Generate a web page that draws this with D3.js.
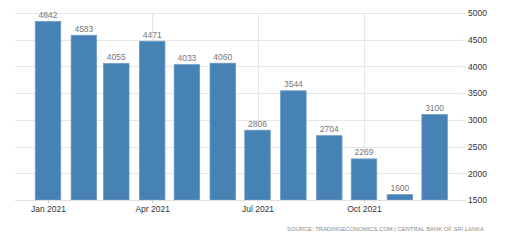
<!DOCTYPE html>
<html>
<head>
<meta charset="utf-8">
<script src="https://cdn.jsdelivr.net/npm/d3@7"></script>
<style>
  body { margin: 0; background: #fff; }
  svg { display: block; font-family: "Liberation Sans", Arial, sans-serif; }
  .grid line { stroke: #e6e6e6; }
</style>
</head>
<body>
<svg id="chart" width="515" height="240"></svg>
<script>
// monthly values, 2021
var months = ['2021-01', '2021-02', '2021-03', '2021-04', '2021-05', '2021-06',
  '2021-07', '2021-08', '2021-09', '2021-10', '2021-11', '2021-12']
var values = [4842, 4583, 4055, 4471, 4033, 4060, 2806, 3544, 2704, 2269, 1600, 3100]
var yTicks = [1500, 2000, 2500, 3000, 3500, 4000, 4500, 5000]
var xTicks = ['2021-01', '2021-04', '2021-07', '2021-10']

var parse = d3.timeParse('%Y-%m')
var data = months.map((m, i) => ({ date: parse(m), value: values[i] }))

var svg = d3.select('#chart')
var plotLeft = 15, plotRight = 459, plotTop = 13, plotBottom = 200

var x = d3.scaleTime()
  .domain([parse('2021-01'), parse('2021-10')])
  .range([48, 364])
var y = d3.scaleLinear().domain([1500, 5000]).range([plotBottom, plotTop])
var barW = 25.5

// horizontal grid
svg.append('g').attr('class', 'grid')
  .selectAll('line')
  .data(yTicks)
  .enter()
  .append('line')
  .attr('x1', plotLeft)
  .attr('x2', plotRight)
  .attr('y1', (d) => Math.round(y(d)) + 0.5)
  .attr('y2', (d) => Math.round(y(d)) + 0.5)

// vertical grid
svg.append('g').attr('class', 'grid')
  .selectAll('line')
  .data(xTicks.map(parse))
  .enter()
  .append('line')
  .attr('x1', (d) => Math.round(x(d)) + 0.5)
  .attr('x2', (d) => Math.round(x(d)) + 0.5)
  .attr('y1', plotTop)
  .attr('y2', plotBottom)

// bars
svg.append('g')
  .selectAll('rect')
  .data(data)
  .enter()
  .append('rect')
  .attr('x', (d) => x(d.date) - barW / 2)
  .attr('width', barW)
  .attr('y', (d) => y(d.value))
  .attr('height', (d) => plotBottom - y(d.value))
  .attr('fill', '#4682b4')
  .attr('stroke', '#6b9bc6')
  .attr('stroke-width', 0.8)

// value labels
svg.append('g')
  .selectAll('text')
  .data(data)
  .enter()
  .append('text')
  .attr('x', (d) => x(d.date))
  .attr('y', (d) => y(d.value) - 3.5)
  .attr('text-anchor', 'middle')
  .attr('font-size', 8.5)
  .attr('fill', '#777')
  .text((d) => d.value)

// x axis
var xAxis = svg.append('g')
  .attr('transform', 'translate(0,' + plotBottom + ')')
  .call(d3.axisBottom(x)
    .tickValues(xTicks.map(parse))
    .tickFormat(d3.timeFormat('%b %Y'))
    .tickSize(3)
    .tickPadding(3))
xAxis.select('.domain').attr('d', 'M' + plotLeft + ',0.5H' + plotRight).attr('stroke', '#e0e0e0')
xAxis.selectAll('.tick line').attr('stroke', '#cccccc')
xAxis.selectAll('text').attr('font-size', 8.5).attr('fill', '#333').attr('font-family', null)

// y axis on the right
var yAxis = svg.append('g')
  .attr('transform', 'translate(' + plotRight + ',0)')
  .call(d3.axisRight(y).tickValues(yTicks).tickFormat(d3.format('d')).tickSize(7).tickPadding(2))
yAxis.select('.domain').remove()
yAxis.selectAll('.tick line').attr('stroke', '#e6e6e6')
yAxis.selectAll('text').attr('font-size', 8.5).attr('fill', '#333').attr('font-family', null)

// source
svg.append('text')
  .attr('x', 484)
  .attr('y', 231)
  .attr('text-anchor', 'end')
  .attr('font-size', 6)
  .attr('textLength', 197)
  .attr('lengthAdjust', 'spacingAndGlyphs')
  .attr('fill', '#8a8a8a')
  .text('SOURCE: TRADINGECONOMICS.COM | CENTRAL BANK OF SRI LANKA')
</script>
</body>
</html>
